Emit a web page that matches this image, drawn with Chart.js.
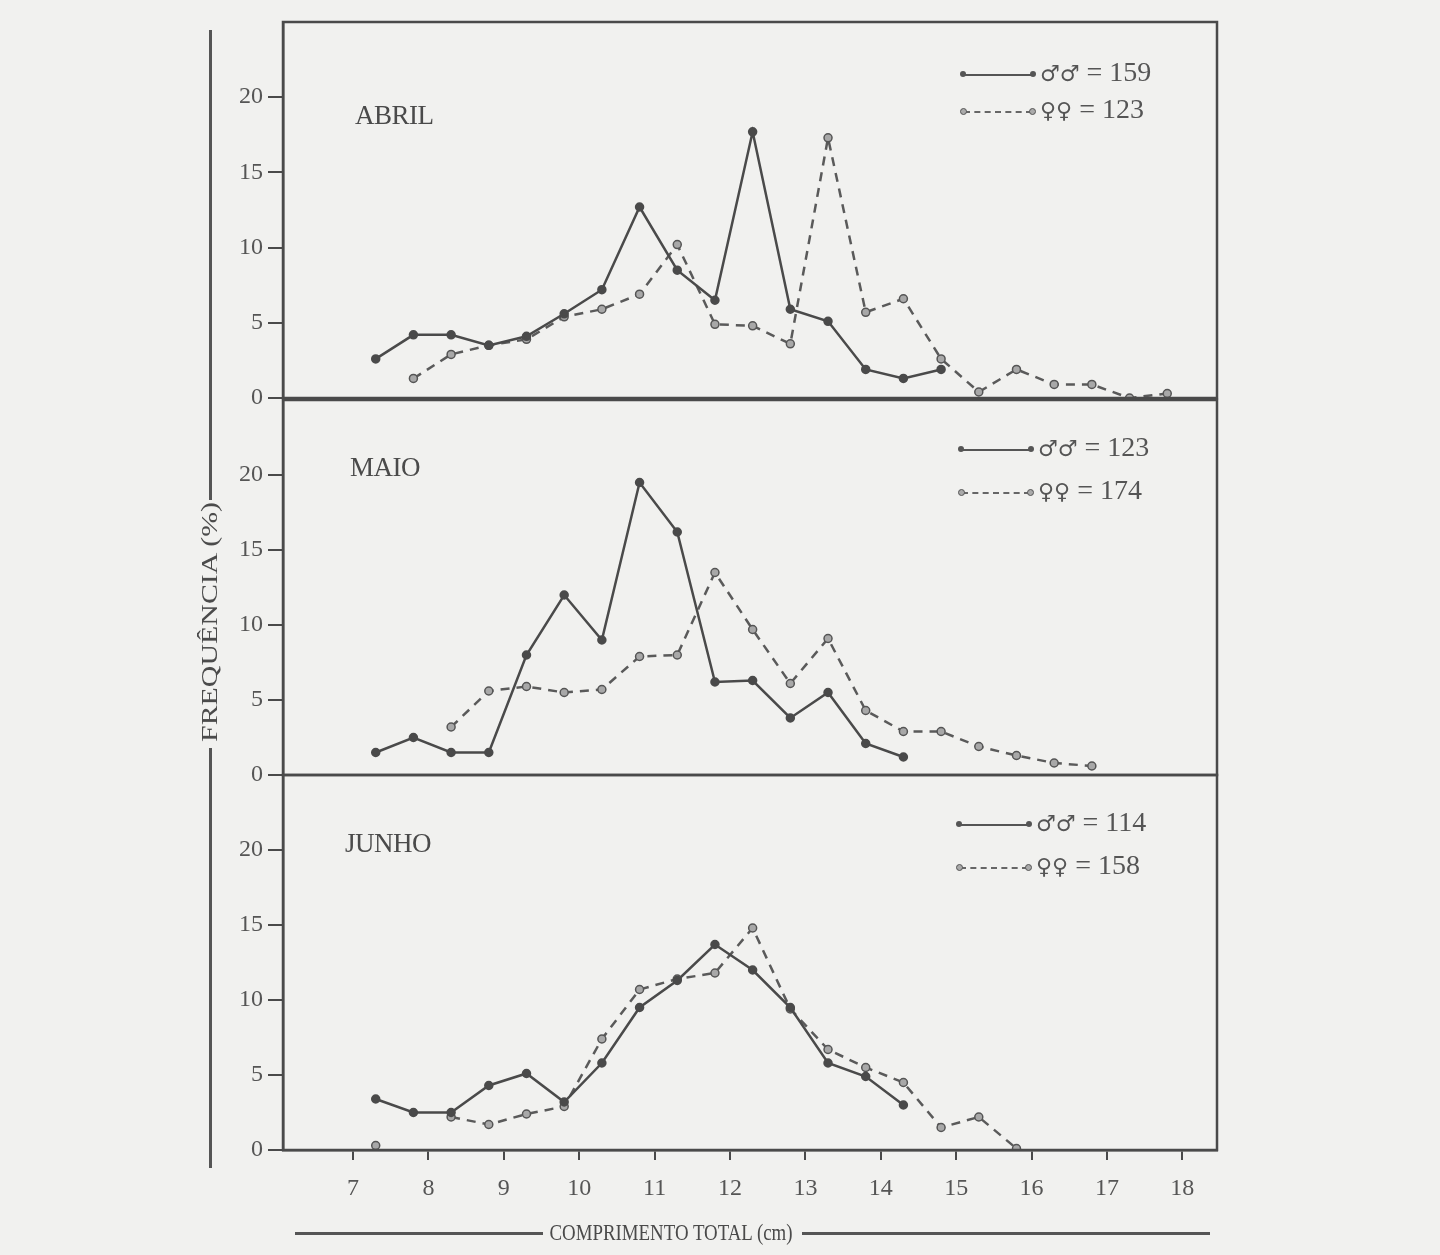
<!DOCTYPE html>
<html lang="pt">
<head>
<meta charset="utf-8">
<title>Frequência de comprimento total - Abril, Maio, Junho</title>
<script src="https://cdn.jsdelivr.net/npm/chart.js@4.4.1/dist/chart.umd.min.js"></script>
<style>
  body { margin:0; background:#f1f1ef; width:1440px; height:1255px; position:relative; overflow:hidden;
         font-family:"Liberation Serif", "DejaVu Serif", serif; color:#555; }
  .panel { position:absolute; left:0; width:1440px; }
  .month { position:absolute; font-size:27px; color:#4a4a4a; letter-spacing:-0.5px; }
  .leg { position:absolute; font-size:28px; color:#555; white-space:nowrap; line-height:30px; }
  .leg .smp { display:inline-block; width:68px; height:0; vertical-align:middle; position:relative; margin-right:8px; }
  .leg .smp.m { border-top:2.5px solid #555; }
  .leg .smp.f { border-top:2.5px dashed #666; }
  .leg .smp:before, .leg .smp:after { content:""; position:absolute; top:-5px; width:6px; height:6px; border-radius:50%; }
  .leg .smp.m:before, .leg .smp.m:after { background:#555; }
  .leg .smp.f:before, .leg .smp.f:after { background:#aaa; border:1.5px solid #555; width:5px; height:5px; }
  .leg .smp:before { left:-4px; } .leg .smp:after { right:-4px; }
  .leg .sx { font-family:"DejaVu Sans", sans-serif; font-size:22px; }
  .vline { position:absolute; left:209px; width:3px; background:#555; }
  .hline { position:absolute; top:1232px; height:3px; background:#555; }
  #ytitle { position:absolute; left:210px; top:622px; transform:translate(-50%,-50%) rotate(-90deg) scaleX(1.3);
            font-size:23px; white-space:nowrap; color:#4a4a4a; }
  #xtitle { position:absolute; left:671px; top:1233px; transform:translate(-50%,-50%) scaleX(0.82);
            font-size:23px; white-space:nowrap; color:#4a4a4a; }
</style>
</head>
<body>

<div class="panel" id="p0" style="top:0;height:430px"><canvas id="c0"></canvas></div>
<div class="panel" id="p1" style="top:380px;height:420px"><canvas id="c1"></canvas></div>
<div class="panel" id="p2" style="top:755px;height:500px"><canvas id="c2"></canvas></div>

<div class="vline" style="top:30px;height:470px"></div>
<div class="vline" style="top:748px;height:420px"></div>
<div id="ytitle">FREQUÊNCIA (%)</div>

<div class="hline" style="left:295px;width:248px"></div>
<div class="hline" style="left:802px;width:408px"></div>
<div id="xtitle">COMPRIMENTO TOTAL (cm)</div>

<script>
// comprimento total (cm), ponto médio das classes como aparecem no gráfico
var classes = [7.3, 7.8, 8.3, 8.8, 9.3, 9.8, 10.3, 10.8, 11.3, 11.8, 12.3,
               12.8, 13.3, 13.8, 14.3, 14.8, 15.3, 15.8, 16.3, 16.8, 17.3, 17.8];

// frequências (%) por mês
var abrilMachos = [2.6, 4.2, 4.2, 3.5, 4.1, 5.6, 7.2, 12.7, 8.5, 6.5, 17.7,
                   5.9, 5.1, 1.9, 1.3, 1.9, null, null, null, null, null, null];
var abrilFemeas = [null, 1.3, 2.9, 3.5, 3.9, 5.4, 5.9, 6.9, 10.2, 4.9, 4.8,
                   3.6, 17.3, 5.7, 6.6, 2.6, 0.4, 1.9, 0.9, 0.9, 0, 0.3];
var maioMachos  = [1.5, 2.5, 1.5, 1.5, 8.0, 12.0, 9.0, 19.5, 16.2, 6.2, 6.3,
                   3.8, 5.5, 2.1, 1.2, null, null, null, null, null, null, null];
var maioFemeas  = [null, null, 3.2, 5.6, 5.9, 5.5, 5.7, 7.9, 8.0, 13.5, 9.7,
                   6.1, 9.1, 4.3, 2.9, 2.9, 1.9, 1.3, 0.8, 0.6, null, null];
var junhoMachos = [3.4, 2.5, 2.5, 4.3, 5.1, 3.2, 5.8, 9.5, 11.3, 13.7, 12.0,
                   9.5, 5.8, 4.9, 3.0, null, null, null, null, null, null, null];
var junhoFemeas = [0.3, null, 2.2, 1.7, 2.4, 2.9, 7.4, 10.7, 11.4, 11.8, 14.8,
                   9.4, 6.7, 5.5, 4.5, 1.5, 2.2, 0.1, null, null, null, null];

var meses = ["ABRIL", "MAIO", "JUNHO"];
var nMachos = [159, 123, 114];
var nFemeas = [123, 174, 158];

var xTicks = [7, 8, 9, 10, 11, 12, 13, 14, 15, 16, 17, 18];
var yTicks = [0, 5, 10, 15, 20];

var INK = "#4a4a4a";
var tickFont = { family: "Liberation Serif", size: 24 };

function pts(ys){
  var out = [];
  for (var i = 0; i < classes.length; i++) {
    out.push({ x: classes[i], y: ys[i] });
  }
  return out;
}

// moldura de cada painel
var boxPlugin = {
  id: 'box',
  afterDraw: function(chart){
    var a = chart.chartArea, ctx = chart.ctx;
    ctx.save();
    ctx.strokeStyle = INK;
    ctx.lineWidth = 2.5;
    ctx.strokeRect(a.left, a.top, a.right - a.left, a.bottom - a.top);
    ctx.restore();
  }
};

function makePanel(idx, machos, femeas, padTop, padBottom, showX){
  var ctx = document.getElementById('c' + idx).getContext('2d');
  return new Chart(ctx, {
    type: 'line',
    data: {
      datasets: [{
        label: 'machos',
        data: pts(machos),
        borderColor: INK,
        borderWidth: 2.5,
        pointRadius: 3.5,
        pointBackgroundColor: INK,
        pointBorderColor: INK,
        spanGaps: false,
        tension: 0
      }, {
        label: 'fêmeas',
        data: pts(femeas),
        borderColor: "#5a5a5a",
        borderWidth: 2.5,
        borderDash: [9, 7],
        pointRadius: 4,
        pointBackgroundColor: "#a8a8a8",
        pointBorderColor: "#555",
        pointBorderWidth: 1.5,
        spanGaps: false,
        tension: 0
      }]
    },
    options: {
      responsive: true,
      maintainAspectRatio: false,
      animation: false,
      layout: { padding: { left: 213, right: 223, top: padTop, bottom: padBottom } },
      plugins: { legend: { display: false }, tooltip: { enabled: false } },
      scales: {
        x: {
          type: 'linear',
          display: showX,
          min: 6.07,
          max: 18.46,
          afterBuildTicks: function(s){ s.ticks = xTicks.map(function(v){ return { value: v }; }); },
          afterFit: function(s){ s.height = showX ? 50 : 0; },
          grid: { drawOnChartArea: false, drawTicks: true, tickLength: 10, color: INK, lineWidth: 2 },
          border: { display: true, color: INK, width: 2.5 },
          ticks: { color: "#555", font: tickFont, padding: 14, maxRotation: 0 }
        },
        y: {
          min: 0,
          max: 25,
          afterBuildTicks: function(s){ s.ticks = yTicks.map(function(v){ return { value: v }; }); },
          afterFit: function(s){ s.width = 70; },
          grid: { drawOnChartArea: false, drawTicks: true, tickLength: 15, color: INK, lineWidth: 2 },
          border: { display: true, color: INK, width: 2.5 },
          ticks: { color: "#555", font: tickFont, padding: 5 }
        }
      }
    },
    plugins: [boxPlugin]
  });
}

makePanel(0, abrilMachos, abrilFemeas, 22, 32, false);
makePanel(1, maioMachos, maioFemeas, 20, 25, false);
makePanel(2, junhoMachos, junhoFemeas, 20, 55, true);

// nomes dos meses e legendas
var monthPos = [[355, 100], [350, 452], [345, 828]];
var legPos = [[964, 57], [962, 432], [960, 807]];
var legGap = [37, 43, 43];
meses.forEach(function(m, i){
  var d = document.createElement('div');
  d.className = 'month';
  d.style.left = monthPos[i][0] + 'px';
  d.style.top = monthPos[i][1] + 'px';
  d.textContent = m;
  document.body.appendChild(d);

  var rows = [
    { cls: 'm', sx: '♂♂', n: nMachos[i] },
    { cls: 'f', sx: '♀♀', n: nFemeas[i] }
  ];
  rows.forEach(function(r, j){
    var l = document.createElement('div');
    l.className = 'leg';
    l.style.left = legPos[i][0] + 'px';
    l.style.top = (legPos[i][1] + j * legGap[i]) + 'px';
    l.innerHTML = '<span class="smp ' + r.cls + '"></span><span class="sx">' + r.sx + '</span> = ' + r.n;
    document.body.appendChild(l);
  });
});
</script>
</body>
</html>
